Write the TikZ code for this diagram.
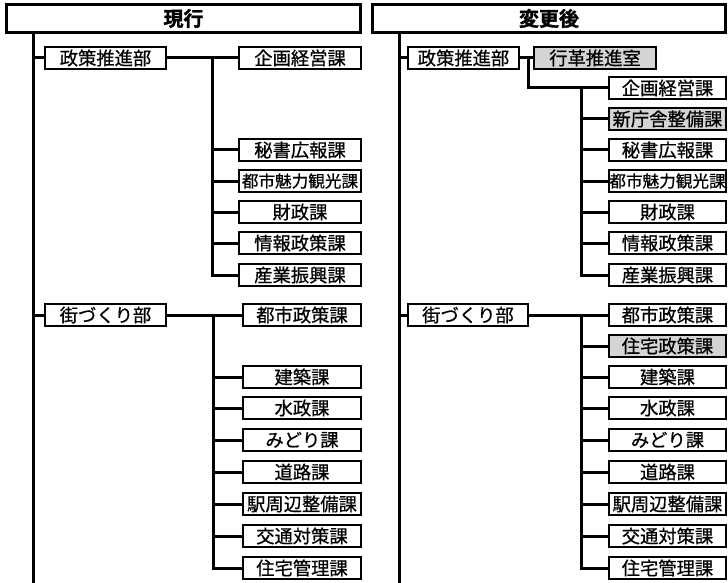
\documentclass[tikz,border=0pt]{standalone}
\usepackage{fontspec}
\setmainfont{Noto Sans CJK JP}[FakeBold=0.9]
\newfontfamily\jpm{Noto Sans CJK JP}[FakeBold=0.7]
\newfontfamily\jph{Noto Sans CJK JP Bold}[FakeBold=1.6]
\definecolor{boxgray}{RGB}{212,212,212}
\begin{document}
\begin{tikzpicture}[x=1pt,y=-1pt,
  ln/.style={line width=3pt, line join=miter},
  box/.style={draw, line width=2.8pt, fill=white, inner sep=0pt, minimum height=22pt, anchor=center, font=\jpm\fontsize{18.3}{18.3}\selectfont},
  gbox/.style={box, fill=boxgray},
  small/.style={font=\jpm\fontsize{16.6}{16.6}\selectfont},
  hdr/.style={draw, line width=3.4pt, inner sep=0pt, minimum height=28pt, anchor=center, font=\jph\fontsize{20}{20}\selectfont},
  lsub/.style={box, minimum width=122pt},
  lsubb/.style={box, minimum width=118pt},
  rsub/.style={box, minimum width=117pt},
  rsubg/.style={gbox, minimum width=117pt}]
\useasboundingbox (0,0) rectangle (728,583);

% ---------- trunks (drawn first) ----------
\coordinate (tLa) at (33.5,32);
\coordinate (tLb) at (33.5,583);
\coordinate (tRa) at (399,32);
\coordinate (tRb) at (399,583);
\draw[ln] (tLa) -- (tLb);
\draw[ln] (tRa) -- (tRb);

% ---------- headers ----------
\node[hdr, minimum width=354pt] (hL) at (183.5,18.5) {現行};
\node[hdr, minimum width=353pt] (hR) at (549,18.5) {変更後};

% ---------- left panel ----------
\node[box, minimum width=121pt] (dL1) at (105.5,58) {政策推進部};
\node[lsub] (aL1) at (300,58) {企画経営課};
\node[lsub] (aL2) at (300,150) {秘書広報課};
\node[lsub, small] (aL3) at (300,181) {都市魅力観光課};
\node[lsub] (aL4) at (300,212) {財政課};
\node[lsub] (aL5) at (300,243) {情報政策課};
\node[lsub] (aL6) at (300,275) {産業振興課};

\node[box, minimum width=121pt] (dL2) at (105.5,315) {街づくり部};
\node[lsubb] (bL1) at (302,315) {都市政策課};
\node[lsubb] (bL2) at (302,377) {建築課};
\node[lsubb] (bL3) at (302,408) {水政課};
\node[lsubb] (bL4) at (302,440) {みどり課};
\node[lsubb] (bL5) at (302,472) {道路課};
\node[lsubb] (bL6) at (302,504) {駅周辺整備課};
\node[lsubb] (bL7) at (302,536) {交通対策課};
\node[lsubb] (bL8) at (302,568) {住宅管理課};

\coordinate (jL1) at (212,58);
\coordinate (jL2) at (213,315);

\draw[ln] (dL1.west) -- (dL1.west -| tLa);
\draw[ln] (dL2.west) -- (dL2.west -| tLa);
\draw[ln] (dL1.east) -- (aL1.west);
\draw[ln] (jL1) |- (aL6.west);
\foreach \n in {aL2,aL3,aL4,aL5} \draw[ln] (jL1 |- \n.west) -- (\n.west);
\draw[ln] (dL2.east) -- (bL1.west);
\draw[ln] (jL2) |- (bL8.west);
\foreach \n in {bL2,bL3,bL4,bL5,bL6,bL7} \draw[ln] (jL2 |- \n.west) -- (\n.west);

% ---------- right panel ----------
\node[box, minimum width=111pt] (dR1) at (463.5,58) {政策推進部};
\node[gbox, minimum width=122pt] (gR) at (595,58) {行革推進室};
\node[rsub] (aR1) at (667.5,88) {企画経営課};
\node[rsubg] (aR2) at (667.5,119) {新庁舎整備課};
\node[rsub] (aR3) at (667.5,150) {秘書広報課};
\node[rsub, small] (aR4) at (667.5,181) {都市魅力観光課};
\node[rsub] (aR5) at (667.5,212) {財政課};
\node[rsub] (aR6) at (667.5,243) {情報政策課};
\node[rsub] (aR7) at (667.5,275) {産業振興課};

\node[box, minimum width=120pt] (dR2) at (468,315) {街づくり部};
\node[rsub] (bR1) at (667.5,315) {都市政策課};
\node[rsubg] (bR2) at (667.5,346) {住宅政策課};
\node[rsub] (bR3) at (667.5,377) {建築課};
\node[rsub] (bR4) at (667.5,408) {水政課};
\node[rsub] (bR5) at (667.5,440) {みどり課};
\node[rsub] (bR6) at (667.5,472) {道路課};
\node[rsub] (bR7) at (667.5,504) {駅周辺整備課};
\node[rsub] (bR8) at (667.5,536) {交通対策課};
\node[rsub] (bR9) at (667.5,568) {住宅管理課};

\coordinate (kR) at (528,58);
\coordinate (jR1) at (581,88);
\coordinate (jR2) at (581,315);

\draw[ln] (dR1.west) -- (dR1.west -| tRa);
\draw[ln] (dR2.west) -- (dR2.west -| tRa);
\draw[ln] (dR1.east) -- (gR.west);
\draw[ln] (kR) |- (aR1.west);
\draw[ln] (jR1) |- (aR7.west);
\foreach \n in {aR2,aR3,aR4,aR5,aR6} \draw[ln] (jR1 |- \n.west) -- (\n.west);
\draw[ln] (dR2.east) -- (bR1.west);
\draw[ln] (jR2) |- (bR9.west);
\foreach \n in {bR2,bR3,bR4,bR5,bR6,bR7,bR8} \draw[ln] (jR2 |- \n.west) -- (\n.west);
\end{tikzpicture}
\end{document}
